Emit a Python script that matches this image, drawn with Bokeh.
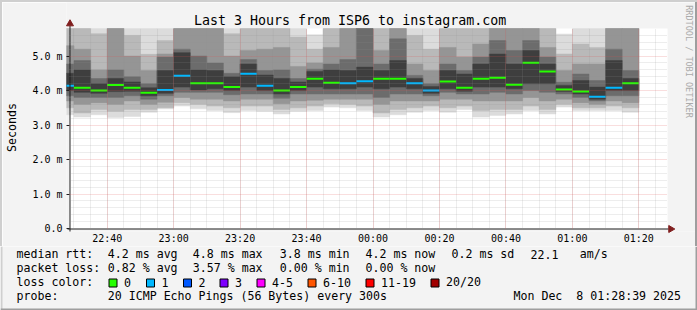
import math
from bokeh.plotting import figure
from bokeh.layouts import column, row
from bokeh.models import FixedTicker, Grid, Spacer
from bokeh.core.properties import value
from bokeh.embed import file_html
from bokeh.resources import INLINE

# ---------------- data ----------------
title = "Last 3 Hours from ISP6 to instagram.com"
window_start = "22:28:39"
window_end = "01:28:39"
step_minutes = 5  # probe every 300 s

# end time of each 5-minute sample
sample_end = ["22:30", "22:35", "22:40", "22:45", "22:50", "22:55", "23:00",
              "23:05", "23:10", "23:15", "23:20", "23:25", "23:30", "23:35",
              "23:40", "23:45", "23:50", "23:55", "00:00", "00:05", "00:10",
              "00:15", "00:20", "00:25", "00:30", "00:35", "00:40", "00:45",
              "00:50", "00:55", "01:00", "01:05", "01:10", "01:15", "01:20"]

# median rtt (ms)
median = [4.14, 4.08, 4.00, 4.16, 4.08, 3.94, 4.02, 4.43, 4.21, 4.21, 4.10, 4.49,
          4.14, 4.00, 4.10, 4.34, 4.23, 4.21, 4.27, 4.34, 4.34, 4.21, 4.00, 4.26,
          4.08, 4.34, 4.37, 4.17, 4.81, 4.55, 4.03, 3.97, 3.82, 4.08, 4.21]
# lost pings (of 20)
loss = [1, 0, 0, 0, 0, 0, 1, 1, 0, 0, 0, 1, 1, 0, 0, 0, 0, 1, 1, 0, 0, 1, 1, 0,
        0, 0, 0, 0, 0, 0, 0, 0, 1, 1, 0]

# sorted ping rtts (ms): lower half ranks 1,3,5,7,9 and upper half ranks 12,14,16,18,20
ping_01 = [3.30, 3.23, 3.30, 3.22, 3.25, 3.37, 3.47, 3.55, 3.47, 3.42, 3.36, 3.42,
           3.40, 3.32, 3.40, 3.42, 3.52, 3.50, 3.42, 3.23, 3.30, 3.37, 3.42, 3.37,
           3.45, 3.23, 3.28, 3.32, 3.42, 3.32, 3.52, 3.42, 3.42, 3.42, 3.37]
ping_03 = [3.50, 3.35, 3.45, 3.40, 3.45, 3.45, 3.50, 3.65, 3.60, 3.55, 3.50, 3.55,
           3.55, 3.45, 3.50, 3.55, 3.62, 3.60, 3.55, 3.35, 3.45, 3.50, 3.55, 3.50,
           3.55, 3.42, 3.45, 3.45, 3.55, 3.45, 3.60, 3.50, 3.50, 3.55, 3.50]
ping_05 = [3.70, 3.60, 3.65, 3.60, 3.70, 3.60, 3.66, 3.80, 3.75, 3.75, 3.70, 3.75,
           3.75, 3.62, 3.70, 3.72, 3.75, 3.75, 3.75, 3.60, 3.70, 3.70, 3.70, 3.75,
           3.75, 3.70, 3.70, 3.70, 3.80, 3.70, 3.75, 3.65, 3.60, 3.70, 3.65]
ping_07 = [3.85, 3.80, 3.80, 3.80, 3.85, 3.75, 3.85, 3.95, 3.95, 3.95, 3.88, 3.90,
           3.90, 3.78, 3.90, 3.90, 3.90, 3.90, 3.90, 3.80, 3.90, 3.90, 3.85, 3.95,
           3.90, 3.90, 3.95, 3.90, 4.00, 3.95, 3.90, 3.80, 3.70, 3.85, 3.85]
ping_09 = [4.00, 3.95, 3.92, 3.97, 3.98, 3.85, 3.92, 4.10, 4.02, 4.05, 4.00, 4.10,
           4.00, 3.90, 4.00, 4.10, 4.05, 4.05, 4.10, 4.05, 4.10, 4.05, 3.92, 4.05,
           3.98, 4.10, 4.10, 4.05, 4.20, 4.20, 3.97, 3.90, 3.75, 4.00, 4.00]
ping_12 = [4.50, 4.60, 4.20, 4.35, 4.25, 4.08, 4.58, 5.10, 4.60, 4.58, 4.40, 4.77,
           4.45, 4.35, 4.25, 4.55, 4.60, 4.58, 4.68, 4.58, 4.87, 4.35, 4.12, 4.58,
           4.48, 4.77, 5.06, 4.77, 5.16, 4.77, 4.15, 4.29, 4.10, 4.87, 4.35]
ping_14 = [4.77, 4.87, 4.35, 4.60, 4.40, 4.20, 4.97, 5.20, 5.00, 4.80, 4.50, 4.90,
           4.58, 4.60, 4.35, 4.62, 4.77, 4.90, 5.90, 4.77, 5.50, 4.44, 4.20, 4.77,
           4.58, 4.97, 5.45, 5.16, 5.45, 4.97, 4.24, 4.48, 4.29, 5.20, 4.58]
ping_16 = [5.30, 5.20, 4.60, 5.90, 5.00, 4.58, 5.06, 5.90, 5.90, 5.90, 5.00, 5.16,
           5.20, 5.25, 4.70, 4.80, 5.25, 5.90, 6.50, 5.16, 6.00, 4.77, 4.58, 5.25,
           4.97, 5.35, 6.00, 5.90, 5.90, 5.25, 4.58, 4.77, 4.77, 6.00, 6.00]
ping_18 = [6.00, 6.00, 5.65, 6.20, 5.60, 5.05, 5.45, 6.20, 6.20, 6.20, 5.65, 6.00,
           6.00, 5.90, 5.55, 5.20, 5.90, 6.20, 7.00, 6.00, 6.50, 5.60, 5.20, 6.00,
           6.00, 6.00, 6.50, 6.20, 6.30, 6.00, 5.06, 5.35, 5.25, 6.30, 6.50]
ping_20 = [6.50, 6.50, 6.20, 6.60, 6.20, 6.00, 6.00, 7.00, 6.80, 6.60, 6.00, 6.50,
           6.50, 6.30, 6.00, 5.62, 6.30, 6.60, 7.50, 6.50, 7.00, 6.00, 6.00, 6.50,
           6.50, 6.50, 7.00, 6.60, 7.00, 6.50, 5.64, 6.00, 6.00, 6.80, 7.00]

y_ticks = [0, 1, 2, 3, 4, 5]
y_tick_labels = ["0.0", "1.0 m", "2.0 m", "3.0 m", "4.0 m", "5.0 m"]
x_tick_labels = ["22:40", "23:00", "23:20", "23:40", "00:00", "00:20", "00:40", "01:00", "01:20"]
y_max = 5.8
y_label = "Seconds"
watermark = "RRDTOOL / TOBI OETIKER"

loss_legend = ["0", "1", "2", "3", "4-5", "6-10", "11-19", "20/20"]
loss_colors = ["#26ff00", "#00b8ff", "#0059ff", "#7e00ff", "#ff00ff", "#ff5500", "#ff0000", "#a10000"]

legend_rows = [
    ["median rtt:", "4.2 ms avg", "4.8 ms max", "3.8 ms min", "4.2 ms now", "0.2 ms sd", "22.1", "am/s"],
    ["packet loss:", "0.82 % avg", "3.57 % max", "0.00 % min", "0.00 % now"],
]
probe_text = ["probe:", "20 ICMP Echo Pings (56 Bytes) every 300s"]
stamp = "Mon Dec \u00a08 01:28:39 2025"

# ---------------- helpers ----------------
def to_min(s):
    parts = [int(v) for v in s.split(":")]
    h, m = parts[0], parts[1]
    sec = parts[2] if len(parts) > 2 else 0
    v = h * 60 + m + sec / 60.0 - 22 * 60
    if v < 0:
        v += 1440
    return v


t0, t1 = to_min(window_start), to_min(window_end)
right = [to_min(s) for s in sample_end]
left = [r - step_minutes for r in right]
x_ticks = [to_min(s) for s in x_tick_labels]

MONO = "DejaVu Sans Mono"
BG = "#f3f3f3"
TXT_DY = -3.8   # text glyph baseline correction (px)

# page-pixel geometry of the graph canvas (rrdtool style)
CX0, CX1, CY0, CY1 = 67, 667, 28, 228          # canvas left/right/top/bottom
PXX = (t1 - t0) / (CX1 - CX0)                    # minutes per pixel
PXY = y_max / (CY1 - CY0)                        # ms per pixel
FIG_X0, FIG_Y0 = 2, 2                            # top figure origin on page
FX0, FX1, FY0, FY1 = 64, 695, 2, 231             # frame of the top figure on page


def X(px):
    return t0 + (px - CX0) * PXX


def Y(py):
    return (CY1 - py) * PXY


p = figure(width=693, height=244,
           x_range=(X(FX0), X(FX1)), y_range=(Y(FY1), Y(FY0)),
           output_backend="svg", toolbar_location=None,
           min_border_left=FX0 - FIG_X0, min_border_right=0,
           min_border_top=0, min_border_bottom=246 - FY1,
           background_fill_color=BG, border_fill_color=BG,
           outline_line_color=None)

# white graph canvas
p.quad(left=[t0], right=[t1], bottom=[0], top=[y_max], fill_color="#ffffff",
       line_color=None)

# smoke
lows = [ping_01, ping_03, ping_05, ping_07, ping_09]
highs = [ping_20, ping_18, ping_16, ping_14, ping_12]
shades = ["#dcdcdc", "#b9b9b9", "#959595", "#6c6c6c", "#3e3e3e"]
for lo, hi, c in zip(lows, highs, shades):
    top = [min(v, y_max) for v in hi]
    p.quad(left=left, right=right, bottom=lo, top=top, fill_color=c,
           line_color=c, line_width=0.5)

# median lines coloured by loss
loss_idx = {0: 0, 1: 1, 2: 2, 3: 3}
mcol = [loss_colors[loss_idx.get(l, 7)] for l in loss]
p.segment(x0=left, x1=right, y0=median, y1=median, line_color=mcol, line_width=2)

# grid (on top of the smoke, like rrdtool)
minor_x = [to_min("22:30") + 5 * i for i in range(36)]
minor_y = [0.2 * i for i in range(1, 29) if i % 5]
GRID_C, GRID_A = "#8f8f8f", 0.32
MGRID_C, MGRID_A = "#de4f4f", 0.38
if "cross_bounds" in Grid.properties():
    p.xgrid.ticker = FixedTicker(ticks=x_ticks, minor_ticks=minor_x)
    p.ygrid.ticker = FixedTicker(ticks=y_ticks[1:], minor_ticks=minor_y)
    p.xgrid.cross_bounds = (0, y_max)
    p.ygrid.cross_bounds = (t0, t1)
    for g in (p.xgrid[0], p.ygrid[0]):
        g.level = "overlay"
        g.grid_line_color = MGRID_C
        g.grid_line_alpha = MGRID_A
        g.grid_line_dash = "1 1"
        g.minor_grid_line_color = GRID_C
        g.minor_grid_line_alpha = GRID_A
        g.minor_grid_line_dash = "1 1"
else:
    p.xgrid.visible = False
    p.ygrid.visible = False
    mx = [v for v in minor_x if v not in x_ticks]
    p.segment(x0=mx, x1=mx, y0=0, y1=y_max, line_color=GRID_C, line_alpha=GRID_A,
              line_dash="1 1", level="overlay")
    p.segment(x0=x_ticks, x1=x_ticks, y0=0, y1=y_max, line_color=MGRID_C,
              line_alpha=MGRID_A, line_dash="1 1", level="overlay")
    p.segment(x0=t0, x1=t1, y0=minor_y, y1=minor_y, line_color=GRID_C,
              line_alpha=GRID_A, line_dash="1 1", level="overlay")
    p.segment(x0=t0, x1=t1, y0=y_ticks[1:], y1=y_ticks[1:], line_color=MGRID_C,
              line_alpha=MGRID_A, line_dash="1 1", level="overlay")

# axis lines with arrows
AX = "#1f1f1f"
p.segment(x0=[X(65)], x1=[X(668)], y0=[Y(228.5)], y1=[Y(228.5)], line_color=AX,
          line_width=1, level="overlay")
p.segment(x0=[X(67.5)], x1=[X(67.5)], y0=[Y(231)], y1=[Y(25)], line_color=AX,
          line_width=1, level="overlay")
p.scatter(x=[X(670.2)], y=[Y(228.5)], marker="triangle", size=7, angle=-math.pi / 2,
          fill_color="#801f1f", line_color="#801f1f", level="overlay")
p.scatter(x=[X(67.5)], y=[Y(23.3)], marker="triangle", size=7,
          fill_color="#801f1f", line_color="#801f1f", level="overlay")

# axes: labels only (lines drawn above)
p.xaxis.ticker = FixedTicker(ticks=x_ticks)
p.xaxis.major_label_overrides = {t: l for t, l in zip(x_ticks, x_tick_labels)}
p.yaxis.ticker = FixedTicker(ticks=y_ticks)
p.yaxis.major_label_overrides = {t: l for t, l in zip(y_ticks, y_tick_labels)}
p.yaxis.bounds = (0, y_max)
p.xaxis.bounds = (t0, t1)
for ax in (p.xaxis[0], p.yaxis[0]):
    ax.axis_line_color = None
    ax.minor_tick_out = 0
    ax.minor_tick_in = 0
    ax.major_label_text_font = MONO
    ax.major_label_text_font_size = "10px"
    ax.major_label_text_color = "#000000"
p.xaxis.major_tick_line_color = None
p.xaxis.major_tick_in = 0
p.xaxis.major_tick_out = 0
p.xaxis.major_label_standoff = 1
p.yaxis.major_tick_line_color = AX
p.yaxis.major_tick_in = 3
p.yaxis.major_tick_out = 0
p.yaxis.major_label_standoff = 4
# axis title; the frame reaches above the graph canvas, so pad the top end
# with no-break spaces to centre the visible word on the canvas like rrdtool
p.yaxis.axis_label = y_label + "\u00a0" * 3
p.yaxis.axis_label_text_font = MONO
p.yaxis.axis_label_text_font_style = "normal"
p.yaxis.axis_label_text_font_size = "11.6px"
p.yaxis.axis_label_text_color = "#000000"
p.yaxis.axis_label_standoff = 10

# title and watermark (inside the frame area of the top figure)
p.text(x=[X(348.5)], y=[Y(24 + TXT_DY)], text=[title], text_font=value(MONO),
       text_font_size="13.3px", text_align="center", text_baseline="alphabetic",
       text_color="#000000")
p.text(x=[X(688)], y=[Y(61)], text=[watermark], text_font=value(MONO),
       text_font_size="8.5px", text_align="center", text_baseline="middle",
       angle=-math.pi / 2, text_color="#aaaaaa")

# ---------------- legend figure (page pixels) ----------------
q = figure(width=697, height=64, x_range=(0, 697), y_range=(310, 246),
           output_backend="svg", toolbar_location=None,
           min_border_left=0, min_border_right=0, min_border_top=0, min_border_bottom=0,
           background_fill_color=BG, border_fill_color=BG, outline_line_color=None)
q.axis.visible = False
q.grid.visible = False

row_y = [257.5 + TXT_DY, 271.5 + TXT_DY, 285.5 + TXT_DY, 299.5 + TXT_DY]
seg_x = [16, 107.3, 192.3, 279.3, 365, 451, 530, 579.3]
tx, ty, tt = [], [], []
for r, rw in enumerate(legend_rows):
    for txt, xx in zip(rw, seg_x):
        tx.append(xx); ty.append(row_y[r]); tt.append(txt)
tx.append(16); ty.append(row_y[2]); tt.append("loss color:")
box_x = [108.5, 146, 183, 219.5, 256.5, 307.5, 365.5, 430.5]
for name, xx in zip(loss_legend, box_x):
    tx.append(xx + 15); ty.append(row_y[2]); tt.append(name)
tx += [16, 107.3]; ty += [row_y[3], row_y[3]]; tt += probe_text
q.text(x=tx, y=ty, text=tt, text_font=value(MONO), text_font_size="11.6px",
       text_baseline="alphabetic", text_color="#000000")
q.text(x=[680.5], y=[row_y[3]], text=[stamp], text_font=value(MONO),
       text_font_size="11.6px", text_baseline="alphabetic", text_align="right",
       text_color="#000000")
q.quad(left=box_x, right=[b + 8 for b in box_x], top=[278.5] * len(box_x),
       bottom=[286.5] * len(box_x), fill_color=loss_colors, line_color="#000000",
       line_width=1)
# 3-D frame of the image
q.quad(left=[0], right=[2], top=[246], bottom=[310], fill_color="#cfcfcf", line_color=None)
q.quad(left=[0, 695], right=[697, 697], top=[308, 246], bottom=[310, 310],
       fill_color="#9e9e9e", line_color=None)

layout = column(
    Spacer(width=697, height=2, styles={"background-color": "#cfcfcf"}),
    row(Spacer(width=2, height=244, styles={"background-color": "#cfcfcf"}), p,
        Spacer(width=2, height=244, styles={"background-color": "#9e9e9e"})),
    q,
)

open("out.html", "w").write(file_html(layout, INLINE))
